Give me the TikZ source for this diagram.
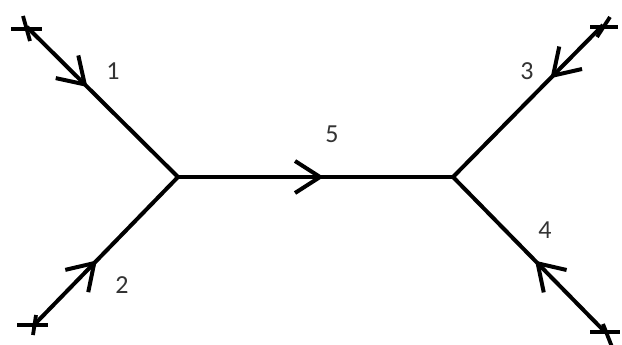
\documentclass[tikz,border=0pt]{standalone}
\usepackage{fontspec}
\setmainfont{Carlito}
\usetikzlibrary{arrows.meta,decorations.markings}
\definecolor{labelgray}{HTML}{333333}
\tikzset{
  branch/.style={line width=4pt},
  midarrow/.style={postaction={decorate},decoration={markings,
      mark=at position #1 with {\arrow[line width=4pt]{Straight Barb[length=25pt,width=32pt]}}}},
  tick/.style={line width=3.8pt},
  lbl/.style={text=labelgray,font=\fontsize{26}{26}\selectfont,inner sep=0pt}
}

\begin{document}
\begin{tikzpicture}[x=1pt,y=-1pt]
    \useasboundingbox (0,0) rectangle (622,345);
    % vertices and external ends
    \coordinate (v1) at (178,177);
    \coordinate (v2) at (453,177);
    \coordinate (e1) at (27,27);
    \coordinate (e2) at (33,326);
    \coordinate (e3) at (603,25);
    \coordinate (e4) at (605,332);
    % branches
    \draw[branch,midarrow=0.40] (e1) -- (v1);
    \draw[branch,midarrow=0.44] (e2) -- (v1);
    \draw[branch,midarrow=0.35] (e3) -- (v2);
    \draw[branch,midarrow=0.46] (e4) -- (v2);
    \draw[branch,midarrow=0.53] (v1) -- (v2);
    % end marks
    \draw[tick] ([xshift=-16pt,yshift=-2pt]e1) -- ([xshift=15pt,yshift=-2pt]e1);
    \draw[tick] ([xshift=3pt,yshift=-14pt]e1) -- ([xshift=-4pt,yshift=11pt]e1);
    \draw[tick] ([xshift=-16pt,yshift=1pt]e2) -- ([xshift=15pt,yshift=1pt]e2);
    \draw[tick] ([xshift=0pt,yshift=-9pt]e2) -- ([xshift=3pt,yshift=11pt]e2);
    \draw[tick] ([xshift=-13pt,yshift=-2pt]e3) -- ([xshift=15pt,yshift=-2pt]e3);
    \draw[tick] ([xshift=-6pt,yshift=-12pt]e3) -- ([xshift=7pt,yshift=8pt]e3);
    \draw[tick] ([xshift=-15pt]e4) -- ([xshift=15pt]e4);
    \draw[tick] ([xshift=7pt,yshift=-15pt]e4) -- ([xshift=-2pt,yshift=8pt]e4);
    % branch labels
    \node[lbl] (l1) at (113,71) {1};
    \node[lbl] (l2) at (122,285) {2};
    \node[lbl] (l3) at (527,71) {3};
    \node[lbl] (l4) at (545,230) {4};
    \node[lbl] (l5) at (332,134) {5};
\end{tikzpicture}
\end{document}
